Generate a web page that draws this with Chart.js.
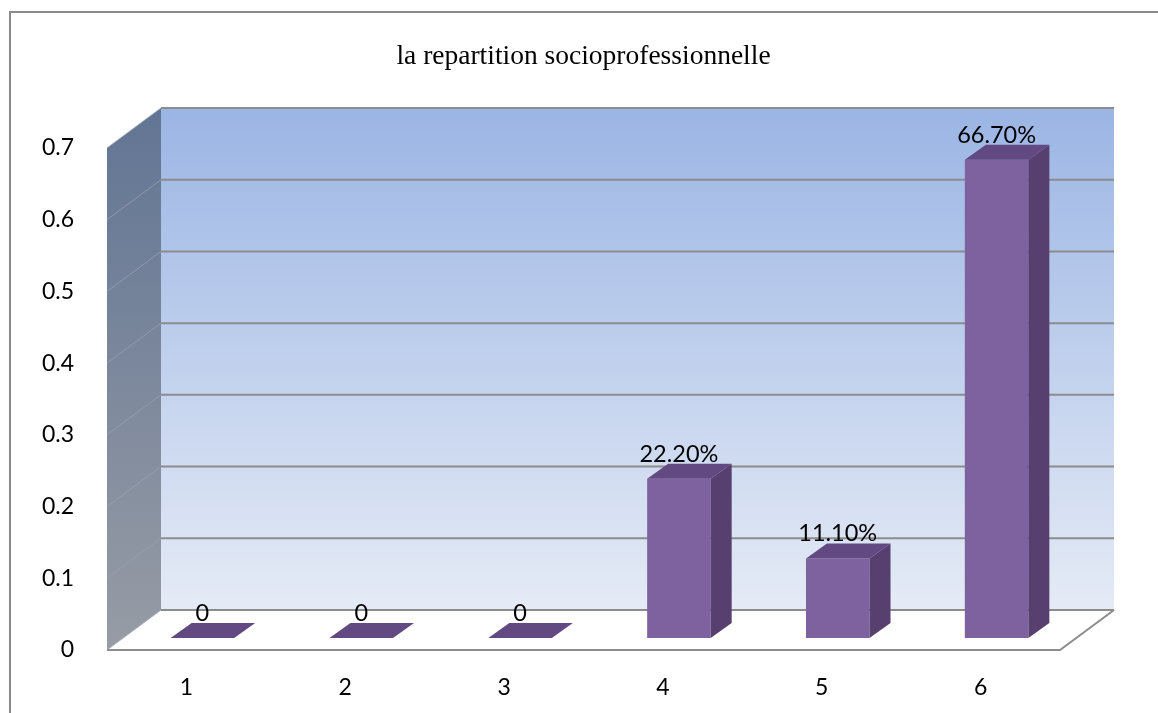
<!DOCTYPE html>
<html>
<head>
<meta charset="utf-8">
<script src="https://cdn.jsdelivr.net/npm/chart.js@4/dist/chart.umd.min.js"></script>
<style>
  html, body { margin: 0; padding: 0; background: #fff; }
  #wrap { width: 1158px; height: 713px; }
</style>
</head>
<body>
<div id="wrap"><canvas id="repartition"></canvas></div>
<script>
// categories and their shares (fractions, labelled as percentages)
const categories = ['1', '2', '3', '4', '5', '6'];
const shares = [0, 0, 0, 0.222, 0.111, 0.667];
const yMax = 0.7;
const yStep = 0.1;

// depth of the 3d box and where the bars sit inside it
const DEPTH_X = 54, DEPTH_Y = -40;
const BAR_OFF_X = 16, BAR_OFF_Y = -12;
const BAR_DX = 21, BAR_DY = -15;

const gridColor = '#8c8c8c';

function shareLabel(v) {
    return v === 0 ? '0' : (v * 100).toFixed(2) + '%';
}

const box3d = {
    id: 'box3d',
    beforeDraw(chart) {
        const ctx = chart.ctx;
        ctx.save();
        ctx.fillStyle = '#fff';
        ctx.fillRect(0, 0, chart.width, chart.height);
        // outer frame
        ctx.strokeStyle = '#8a8a8a';
        ctx.lineWidth = 2;
        ctx.beginPath();
        ctx.moveTo(10, chart.height);
        ctx.lineTo(10, 12);
        ctx.lineTo(chart.width, 12);
        ctx.stroke();
        ctx.restore();
    },
    beforeDatasetsDraw(chart) {
        const ctx = chart.ctx;
        const { left: L, right: R, bottom: B } = chart.chartArea;
        const y = chart.scales.y;
        const T = y.getPixelForValue(yMax);
        ctx.save();

        // side wall
        let g = ctx.createLinearGradient(0, T + DEPTH_Y, 0, B);
        g.addColorStop(0, '#627594');
        g.addColorStop(1, '#979ca5');
        ctx.fillStyle = g;
        ctx.beginPath();
        ctx.moveTo(L, B);
        ctx.lineTo(L, T);
        ctx.lineTo(L + DEPTH_X, T + DEPTH_Y);
        ctx.lineTo(L + DEPTH_X, B + DEPTH_Y);
        ctx.closePath();
        ctx.fill();

        // back wall
        g = ctx.createLinearGradient(0, T + DEPTH_Y, 0, B + DEPTH_Y);
        g.addColorStop(0, '#9bb5e4');
        g.addColorStop(1, '#e5ebf6');
        ctx.fillStyle = g;
        ctx.fillRect(L + DEPTH_X, T + DEPTH_Y, R - L, B - T);

        // floor
        ctx.fillStyle = '#fff';
        ctx.beginPath();
        ctx.moveTo(L, B);
        ctx.lineTo(R, B);
        ctx.lineTo(R + DEPTH_X, B + DEPTH_Y);
        ctx.lineTo(L + DEPTH_X, B + DEPTH_Y);
        ctx.closePath();
        ctx.fill();

        // grid lines on the walls
        for (let v = 0; v <= yMax + 1e-9; v += yStep) {
            const yf = y.getPixelForValue(v);
            ctx.strokeStyle = 'rgba(150,160,175,0.8)';
            ctx.lineWidth = 1;
            ctx.beginPath();
            ctx.moveTo(L, yf);
            ctx.lineTo(L + DEPTH_X, yf + DEPTH_Y);
            ctx.stroke();
            ctx.strokeStyle = gridColor;
            ctx.lineWidth = 2;
            ctx.beginPath();
            ctx.moveTo(L + DEPTH_X, yf + DEPTH_Y);
            ctx.lineTo(R + DEPTH_X, yf + DEPTH_Y);
            ctx.stroke();
        }

        // floor outline
        ctx.strokeStyle = gridColor;
        ctx.lineWidth = 2;
        ctx.beginPath();
        ctx.moveTo(L, B);
        ctx.lineTo(R, B);
        ctx.lineTo(R + DEPTH_X, B + DEPTH_Y);
        ctx.stroke();
        ctx.restore();
    },
    beforeDatasetDraw(chart) {
        chart.ctx.save();
        chart.ctx.translate(BAR_OFF_X, BAR_OFF_Y);
    },
    afterDatasetDraw(chart, args) {
        const ctx = chart.ctx;
        args.meta.data.forEach(el => {
            const { x, y, base, width } = el.getProps(['x', 'y', 'base', 'width'], true);
            const xl = x - width / 2, xr = x + width / 2;
            // right side
            ctx.fillStyle = '#574070';
            ctx.beginPath();
            ctx.moveTo(xr, y);
            ctx.lineTo(xr, base);
            ctx.lineTo(xr + BAR_DX, base + BAR_DY);
            ctx.lineTo(xr + BAR_DX, y + BAR_DY);
            ctx.closePath();
            ctx.fill();
            // top
            ctx.fillStyle = '#624982';
            ctx.beginPath();
            ctx.moveTo(xl, y);
            ctx.lineTo(xr, y);
            ctx.lineTo(xr + BAR_DX, y + BAR_DY);
            ctx.lineTo(xl + BAR_DX, y + BAR_DY);
            ctx.closePath();
            ctx.fill();
        });
        ctx.restore();
    },
    afterDatasetsDraw(chart) {
        const ctx = chart.ctx;
        const meta = chart.getDatasetMeta(0);
        ctx.save();
        ctx.fillStyle = '#000';
        ctx.font = '23.5px Lato';
        ctx.textAlign = 'center';
        ctx.textBaseline = 'alphabetic';
        meta.data.forEach((el, i) => {
            const v = chart.data.datasets[0].data[i];
            ctx.fillText(shareLabel(v), el.x + BAR_OFF_X, el.y + BAR_OFF_Y + BAR_DY - 2);
        });
        ctx.restore();
    }
};

const ctx = document.getElementById('repartition');
new Chart(ctx, {
    type: 'bar',
    data: {
        labels: categories,
        datasets: [{
            label: 'repartition',
            data: shares,
            backgroundColor: '#7e62a0',
            borderWidth: 0,
            categoryPercentage: 1,
            barPercentage: 0.4,
            clip: false
        }]
    },
    options: {
        responsive: true,
        maintainAspectRatio: false,
        animation: false,
        layout: { padding: { left: 0, right: 98, top: 0, bottom: 0 } },
        plugins: {
            legend: { display: false },
            tooltip: { enabled: false },
            title: {
                display: true,
                fullSize: false,
                text: 'la repartition socioprofessionnelle',
                color: '#000',
                font: { family: 'Liberation Serif', size: 27.5, weight: 'normal' },
                padding: { top: 40, bottom: 75 }
            }
        },
        scales: {
            x: {
                grid: { display: false },
                border: { display: false },
                ticks: { color: '#000', font: { family: 'Lato', size: 23 }, padding: 16 },
                afterFit(scale) { scale.height = 63; }
            },
            y: {
                min: 0,
                max: yMax,
                grid: { display: false },
                border: { display: false },
                ticks: { stepSize: yStep, color: '#000', font: { family: 'Lato', size: 23 }, padding: 25 },
                afterFit(scale) { scale.width = 107; }
            }
        }
    },
    plugins: [box3d]
});
</script>
</body>
</html>
